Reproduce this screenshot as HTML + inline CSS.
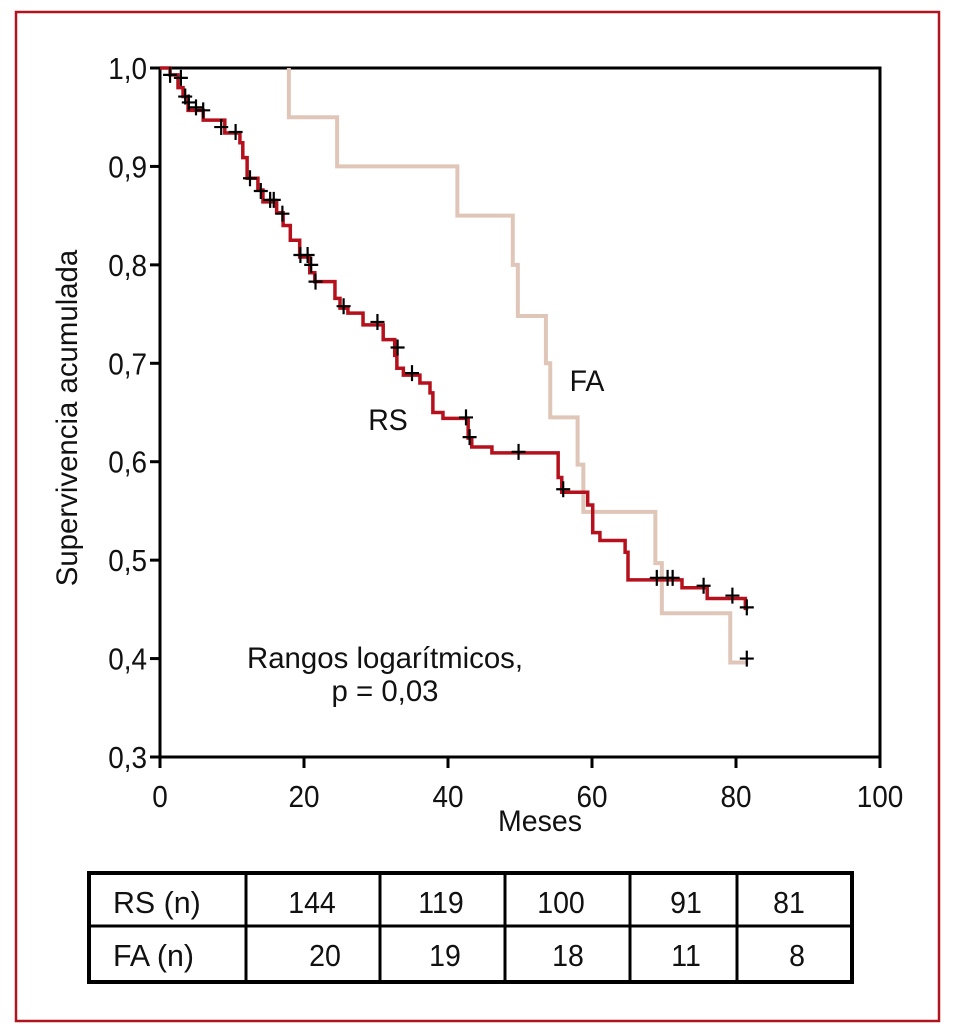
<!DOCTYPE html>
<html><head><meta charset="utf-8"><style>
html,body{margin:0;padding:0;background:#fff;}
svg{display:block;font-family:"Liberation Sans",sans-serif;}
</style></head><body>
<svg id="chart" width="954" height="1032" viewBox="0 0 954 1032">
<rect x="16" y="12" width="923" height="1009" fill="none" stroke="#b0141e" stroke-width="2.5"/>
<g id="plot"></g>
</svg>
<script>
const xTicks = [0,20,40,60,80,100];
const yTicks = [0.3,0.4,0.5,0.6,0.7,0.8,0.9,1.0];
const yTickLabels = ["0,3","0,4","0,5","0,6","0,7","0,8","0,9","1,0"];
const rsTimes = [0,1.4,2.5,3.2,3.9,6.0,9.0,11.1,11.5,12.1,13.6,14.3,16.2,17.1,18.1,19.4,20.8,21.5,24.3,25,26.1,28.2,31,32.6,32.9,33.8,36.1,37.5,37.9,39.3,42.8,43.3,46.1,55.3,55.8,59.4,60.1,61.1,64.6,65,72.5,76,81.3,81.7];
const rsSurv = [1.0,0.993,0.98,0.971,0.957,0.947,0.934,0.924,0.909,0.888,0.876,0.864,0.853,0.840,0.825,0.808,0.792,0.783,0.766,0.756,0.751,0.739,0.724,0.708,0.695,0.688,0.680,0.670,0.650,0.644,0.624,0.615,0.609,0.584,0.569,0.556,0.528,0.520,0.508,0.480,0.472,0.461,0.451,0.451];
const faTimes = [17.9,17.9,24.6,41.3,49,49.7,53.6,54.2,58,58.8,68.8,69.7,79.2,81.7];
const faSurv = [1.0,0.95,0.90,0.85,0.80,0.748,0.70,0.645,0.597,0.549,0.497,0.446,0.396,0.396];
const rsCensorT = [1.4,2.9,3.5,4,5,6,8.5,10.5,12.5,14,15.3,15.8,17,19.5,20.5,21,21.6,25.5,30.2,33,35,42.5,43,49.8,56,69,70.5,71.2,75.5,79.5,81.5];
const rsCensorS = [0.993,0.99,0.971,0.965,0.96,0.957,0.94,0.935,0.888,0.875,0.866,0.866,0.852,0.81,0.81,0.80,0.783,0.758,0.742,0.716,0.69,0.645,0.625,0.61,0.572,0.482,0.482,0.482,0.474,0.464,0.452];
const faCensorT = [81.5];
const faCensorS = [0.40];
const tableRows = ["RS (n)","FA (n)"];
const rsCounts = ["144","119","100","91","81"];
const faCounts = ["20","19","18","11","8"];

const NS="http://www.w3.org/2000/svg";
const g=document.getElementById('plot');
const X0=160,X1=880,Y0=757,Y1=68;
const sx=v=>X0+(v-0)/(100-0)*(X1-X0);
const sy=v=>Y0-(v-0.3)/(1.0-0.3)*(Y0-Y1);
function el(tag,attrs){const e=document.createElementNS(NS,tag);for(const k in attrs)e.setAttribute(k,attrs[k]);g.appendChild(e);return e;}
function txt(s,x,y,size,anchor,sc){const t=el('text',{x:0,y:0,'font-size':size,'text-anchor':anchor,fill:'#111',transform:`translate(${x},${y}) scale(${sc||0.82},1)`});t.textContent=s;return t;}

let e=el('rect',{x:X0,y:Y1,width:X1-X0,height:Y0-Y1,fill:'none',stroke:'#000','stroke-width':3});


xTicks.forEach(v=>{
  let t=el('line',{x1:sx(v),x2:sx(v),y1:Y0,y2:Y0+11,stroke:'#000','stroke-width':3});
  
  
  let l=txt(String(v),sx(v),Y0+50,31,'middle',0.9);
  
  
});
yTicks.forEach((v,i)=>{
  let t=el('line',{x1:X0-10,x2:X0,y1:sy(v),y2:sy(v),stroke:'#000','stroke-width':3});
  
  
  let l=txt(yTickLabels[i],X0-13,sy(v)+11,31,'end',0.9);
  
  
});
let xt=txt('Meses',540,831,30,'middle',0.95);


let yt=el('text',{x:0,y:0,'font-size':30,'text-anchor':'middle',fill:'#111',transform:'translate(77,418) rotate(-90) scale(0.98,1)'});
yt.textContent='Supervivencia acumulada';



function stepPath(ts,ss){let d=`M${sx(ts[0])},${sy(ss[0])}`;for(let i=1;i<ts.length;i++){d+=` H${sx(ts[i])} V${sy(ss[i])}`;}return d;}
let fa=el('path',{d:stepPath(faTimes,faSurv),fill:'none',stroke:'#e0c6b8','stroke-width':4});


let rs=el('path',{d:stepPath(rsTimes,rsSurv),fill:'none',stroke:'#b5101c','stroke-width':3.5});


function censor(ts,ss,name){ts.forEach((t,i)=>{const cx=sx(t),cy=sy(ss[i]);
  let p=el('path',{d:`M${cx-7},${cy} H${cx+7} M${cx},${cy-8} V${cy+8}`,stroke:'#000','stroke-width':2.2,fill:'none'});
  
  });}
censor(rsCensorT,rsCensorS,'rs-censor-mark');
censor(faCensorT,faCensorS,'fa-censor-mark');

let l1=txt('RS',388,430,30,'middle',0.95);


let l2=txt('FA',587,391,30,'middle',0.95);


let n1=txt('Rangos logarítmicos,',385,668,30,'middle',0.98);


let n2=txt('p = 0,03',385,701,30,'middle',0.98);



const TX0=89,TX1=852,TY0=873,TY1=982,TYM=926;
const colEdges=[89,246,380,505,630,737,852];
let tb=el('rect',{x:TX0,y:TY0,width:TX1-TX0,height:TY1-TY0,fill:'none',stroke:'#000','stroke-width':4});


let hl=el('line',{x1:TX0,x2:TX1,y1:TYM,y2:TYM,stroke:'#000','stroke-width':3});


colEdges.slice(1,-1).forEach(cx=>{
  let v=el('line',{x1:cx,x2:cx,y1:TY0,y2:TY1,stroke:'#000','stroke-width':3});
  
  
});
tableRows.forEach((r,i)=>{
  let t=txt(r,113,TY0+40+i*53,31,'start',0.98);
  
  
});
const rsX=[312,441,561,686,789], faX=[325,445,568,686,797];
rsCounts.forEach((c,i)=>{
  let t=txt(c,rsX[i],TY0+40,31,'middle',0.92);
  
  
});
faCounts.forEach((c,i)=>{
  let t=txt(c,faX[i],TY0+93,31,'middle',0.92);
  
  
});
</script>
</body></html>
